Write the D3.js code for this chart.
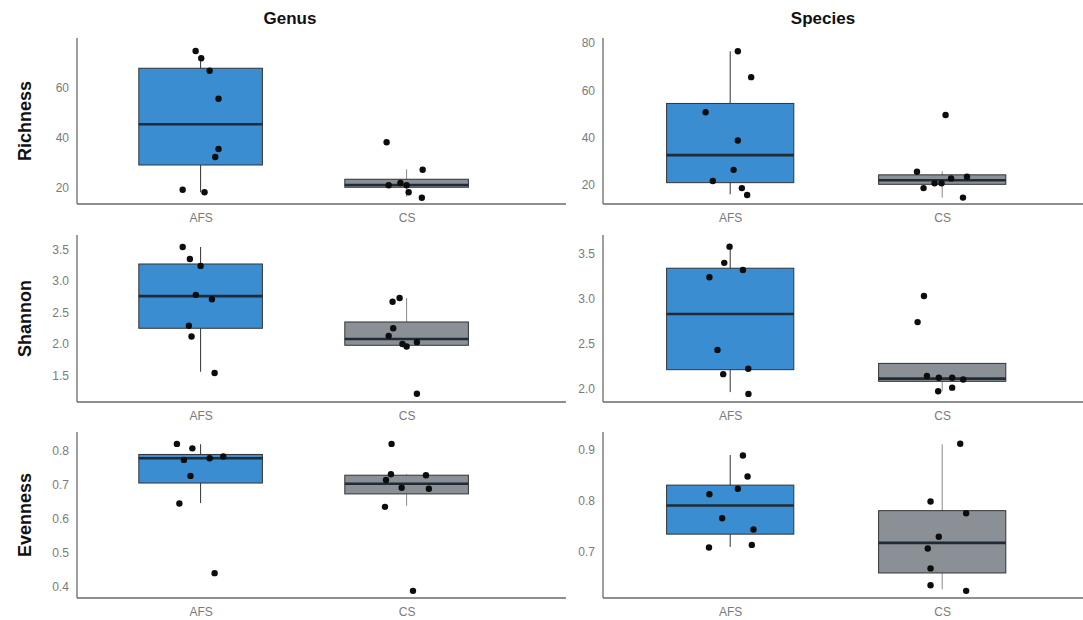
<!DOCTYPE html>
<html>
<head>
<meta charset="utf-8">
<script src="https://cdn.jsdelivr.net/npm/d3@7"></script>
<style>
  body { margin: 0; background: #fff; }
  svg { display: block; font-family: "Liberation Sans", Arial, sans-serif; }
</style>
</head>
<body>
<div id="chart"></div>
<script>
const groups = ['AFS', 'CS']
const levels = ['Genus', 'Species']
const metrics = ['Richness', 'Shannon', 'Evenness']

// box stats: [lower whisker, q1, median, q3, upper whisker]
// points: values + x jitter (in category units)

// Richness - genus
const richGenusBoxAFS = [18.3, 29.2, 45.5, 67.9, 71.9]
const richGenusBoxCS = [16.5, 20.3, 21.2, 23.5, 27.5]
const richGenusAFS = [74.8, 71.9, 66.9, 55.7, 35.6, 32.4, 19.3, 18.3]
const richGenusAFSJit = [-0.024, 0.003, 0.044, 0.087, 0.087, 0.071, -0.087, 0.019]
const richGenusCS = [38.3, 27.3, 21.1, 22.0, 21.1, 18.3, 16.1]
const richGenusCSJit = [-0.097, 0.078, -0.087, -0.03, 0.0, 0.01, 0.074]
const richGenusTicks = [20, 40, 60]
const richGenusDomain = [13.6, 80]

// Richness - species
const richSpeciesBoxAFS = [16.1, 21.0, 32.6, 54.4, 76.4]
const richSpeciesBoxCS = [14.7, 20.3, 22.0, 24.3, 25.8]
const richSpeciesAFS = [76.4, 65.5, 50.7, 38.8, 26.4, 21.7, 18.7, 15.8]
const richSpeciesAFSJit = [0.036, 0.099, -0.116, 0.036, 0.016, -0.082, 0.055, 0.08]
const richSpeciesCS = [49.5, 25.6, 23.5, 22.8, 18.7, 20.7, 20.7, 14.7]
const richSpeciesCSJit = [0.016, -0.119, 0.117, 0.042, -0.088, -0.036, -0.003, 0.098]
const richSpeciesTicks = [20, 40, 60, 80]
const richSpeciesDomain = [12, 82]

// Shannon - genus
const shanGenusBoxAFS = [1.56, 2.25, 2.76, 3.27, 3.54]
const shanGenusBoxCS = [1.95, 1.98, 2.08, 2.35, 2.73]
const shanGenusAFS = [3.54, 3.35, 3.24, 2.78, 2.71, 2.29, 2.12, 1.54]
const shanGenusAFSJit = [-0.087, -0.052, 0.0, -0.023, 0.055, -0.057, -0.044, 0.068]
const shanGenusCS = [2.67, 2.73, 2.25, 2.13, 2.0, 1.96, 2.03, 1.21]
const shanGenusCSJit = [-0.068, -0.034, -0.065, -0.087, -0.02, 0.0, 0.05, 0.05]
const shanGenusTicks = [1.5, 2.0, 2.5, 3.0, 3.5]
const shanGenusDomain = [1.08, 3.73]

// Shannon - species
const shanSpeciesBoxAFS = [1.96, 2.21, 2.83, 3.34, 3.58]
const shanSpeciesBoxCS = [1.97, 2.08, 2.11, 2.28, 2.28]
const shanSpeciesAFS = [3.58, 3.40, 3.32, 3.24, 2.43, 2.22, 2.16, 1.94]
const shanSpeciesAFSJit = [-0.003, -0.028, 0.06, -0.098, -0.06, 0.085, -0.033, 0.086]
const shanSpeciesCS = [3.03, 2.74, 2.14, 2.12, 2.12, 2.10, 1.97, 2.01]
const shanSpeciesCSJit = [-0.086, -0.116, -0.072, -0.016, 0.047, 0.099, -0.019, 0.047]
const shanSpeciesTicks = [2.0, 2.5, 3.0, 3.5]
const shanSpeciesDomain = [1.85, 3.71]

// Evenness - genus
const evenGenusBoxAFS = [0.647, 0.706, 0.779, 0.79, 0.82]
const evenGenusBoxCS = [0.639, 0.674, 0.704, 0.729, 0.732]
const evenGenusAFS = [0.821, 0.808, 0.774, 0.727, 0.779, 0.784, 0.646, 0.441]
const evenGenusAFSJit = [-0.115, -0.04, -0.081, -0.049, 0.044, 0.11, -0.103, 0.068]
const evenGenusCS = [0.821, 0.732, 0.715, 0.692, 0.729, 0.689, 0.636, 0.389]
const evenGenusCSJit = [-0.073, -0.076, -0.1, -0.024, 0.094, 0.108, -0.105, 0.031]
const evenGenusTicks = [0.4, 0.5, 0.6, 0.7, 0.8]
const evenGenusDomain = [0.368, 0.856]

// Evenness - species
const evenSpeciesBoxAFS = [0.71, 0.735, 0.791, 0.831, 0.89]
const evenSpeciesBoxCS = [0.627, 0.659, 0.718, 0.781, 0.911]
const evenSpeciesAFS = [0.889, 0.848, 0.824, 0.813, 0.766, 0.744, 0.714, 0.709]
const evenSpeciesAFSJit = [0.06, 0.082, 0.036, -0.098, -0.038, 0.11, 0.102, -0.1]
const evenSpeciesCS = [0.912, 0.799, 0.776, 0.73, 0.707, 0.668, 0.635, 0.624]
const evenSpeciesCSJit = [0.085, -0.055, 0.113, -0.016, -0.068, -0.055, -0.055, 0.113]
const evenSpeciesTicks = [0.7, 0.8, 0.9]
const evenSpeciesDomain = [0.61, 0.935]

const panels = [
  { row: 0, col: 0, box: [richGenusBoxAFS, richGenusBoxCS], pts: [richGenusAFS, richGenusCS], jit: [richGenusAFSJit, richGenusCSJit], ticks: richGenusTicks, domain: richGenusDomain, fmt: 'd' },
  { row: 0, col: 1, box: [richSpeciesBoxAFS, richSpeciesBoxCS], pts: [richSpeciesAFS, richSpeciesCS], jit: [richSpeciesAFSJit, richSpeciesCSJit], ticks: richSpeciesTicks, domain: richSpeciesDomain, fmt: 'd' },
  { row: 1, col: 0, box: [shanGenusBoxAFS, shanGenusBoxCS], pts: [shanGenusAFS, shanGenusCS], jit: [shanGenusAFSJit, shanGenusCSJit], ticks: shanGenusTicks, domain: shanGenusDomain, fmt: '.1f' },
  { row: 1, col: 1, box: [shanSpeciesBoxAFS, shanSpeciesBoxCS], pts: [shanSpeciesAFS, shanSpeciesCS], jit: [shanSpeciesAFSJit, shanSpeciesCSJit], ticks: shanSpeciesTicks, domain: shanSpeciesDomain, fmt: '.1f' },
  { row: 2, col: 0, box: [evenGenusBoxAFS, evenGenusBoxCS], pts: [evenGenusAFS, evenGenusCS], jit: [evenGenusAFSJit, evenGenusCSJit], ticks: evenGenusTicks, domain: evenGenusDomain, fmt: '.1f' },
  { row: 2, col: 1, box: [evenSpeciesBoxAFS, evenSpeciesBoxCS], pts: [evenSpeciesAFS, evenSpeciesCS], jit: [evenSpeciesAFSJit, evenSpeciesCSJit], ticks: evenSpeciesTicks, domain: evenSpeciesDomain, fmt: '.1f' }
]

const width = 1083
const height = 620

// layout
const rowTop = [38, 235, 432]
const rowBottom = [204, 402, 598]
const colLeft = [77, 603]
const colUnit = [206, 212]   // pixels per category step
const colLineEnd = [566, 1083]
const titleX = [290, 823]

const fills = ['#3a8dd0', '#8b9097']
const whiskerColors = ['#333333', '#8a8a8a']

const svg = d3.select('#chart')
  .append('svg')
  .attr('width', width)
  .attr('height', height)

// column titles
svg.selectAll('.col-title')
  .data(levels)
  .enter()
  .append('text')
  .attr('class', 'col-title')
  .attr('x', (d, i) => titleX[i])
  .attr('y', 24)
  .attr('text-anchor', 'middle')
  .style('font-size', '17px')
  .style('font-weight', 'bold')
  .style('fill', '#111')
  .text(d => d)

// row labels
svg.selectAll('.row-title')
  .data(metrics)
  .enter()
  .append('text')
  .attr('class', 'row-title')
  .attr('transform', (d, i) => `translate(31, ${(rowTop[i] + rowBottom[i]) / 2}) rotate(-90)`)
  .attr('text-anchor', 'middle')
  .style('font-size', '18px')
  .style('font-weight', 'bold')
  .style('fill', '#111')
  .text(d => d)

panels.forEach(p => {
  const x0 = colLeft[p.col]
  const unit = colUnit[p.col]
  const x = d3.scaleLinear()
    .domain([0.4, 2.6])
    .range([x0, x0 + 2.2 * unit])
  const y = d3.scaleLinear()
    .domain(p.domain)
    .range([rowBottom[p.row], rowTop[p.row]])

  const g = svg.append('g')

  // y axis labels (no tick marks)
  const yAxis = d3.axisLeft(y)
    .tickValues(p.ticks)
    .tickSize(0)
    .tickPadding(8)
    .tickFormat(d3.format(p.fmt))
  const ya = g.append('g')
    .attr('transform', `translate(${x0},0)`)
    .call(yAxis)
  ya.select('.domain').remove()
  ya.selectAll('text')
    .style('font-size', '12px')
    .style('fill', '#7a7a7a')
    .style('font-family', '"Liberation Sans", Arial, sans-serif')

  // x axis labels
  const xAxis = d3.axisBottom(x)
    .tickValues([1, 2])
    .tickSize(0)
    .tickPadding(9)
    .tickFormat((d, i) => groups[i])
  const xa = g.append('g')
    .attr('transform', `translate(0,${rowBottom[p.row]})`)
    .call(xAxis)
  xa.select('.domain').remove()
  xa.selectAll('text')
    .style('font-size', '12px')
    .style('fill', '#7a7a7a')
    .style('font-family', '"Liberation Sans", Arial, sans-serif')

  // axis lines
  g.append('line')
    .attr('x1', x0).attr('x2', x0)
    .attr('y1', rowTop[p.row]).attr('y2', rowBottom[p.row])
    .attr('stroke', '#6a6a6a').attr('stroke-width', 1.3)
  g.append('line')
    .attr('x1', x0).attr('x2', colLineEnd[p.col])
    .attr('y1', rowBottom[p.row]).attr('y2', rowBottom[p.row])
    .attr('stroke', '#6a6a6a').attr('stroke-width', 1.3)

  const boxHalf = 0.3

  groups.forEach((grp, gi) => {
    const b = p.box[gi]
    const cx = x(gi + 1)

    // whiskers
    g.append('line')
      .attr('x1', cx).attr('x2', cx)
      .attr('y1', y(b[0])).attr('y2', y(b[4]))
      .attr('stroke', whiskerColors[gi]).attr('stroke-width', 1)

    // box
    g.append('rect')
      .attr('x', x(gi + 1 - boxHalf))
      .attr('y', y(b[3]))
      .attr('width', x(gi + 1 + boxHalf) - x(gi + 1 - boxHalf))
      .attr('height', y(b[1]) - y(b[3]))
      .attr('fill', fills[gi])
      .attr('stroke', '#333')
      .attr('stroke-width', 1)

    // median
    g.append('line')
      .attr('x1', x(gi + 1 - boxHalf)).attr('x2', x(gi + 1 + boxHalf))
      .attr('y1', y(b[2])).attr('y2', y(b[2]))
      .attr('stroke', '#1f2b35').attr('stroke-width', 2.6)

    // points
    g.selectAll(null)
      .data(p.pts[gi].map((v, k) => ({ v: v, j: p.jit[gi][k] })))
      .enter()
      .append('circle')
      .attr('cx', d => x(gi + 1 + d.j))
      .attr('cy', d => y(d.v))
      .attr('r', 3.2)
      .attr('fill', '#0d0d0d')
  })
})
</script>
</body>
</html>
